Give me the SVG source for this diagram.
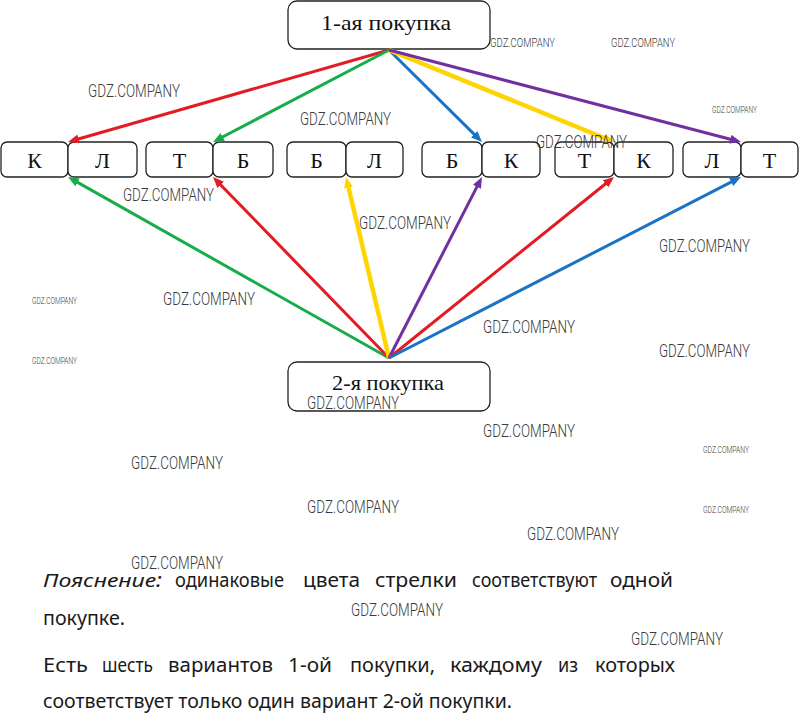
<svg xmlns="http://www.w3.org/2000/svg" width="799" height="717" viewBox="0 0 799 717">
<style>
.box{fill:#fff;stroke:#222;stroke-width:1.3}
.nt{font-family:"Liberation Serif","Times New Roman",serif;font-size:22px;fill:#111;text-anchor:middle}
.lt{font-family:"Liberation Serif","Times New Roman",serif;font-size:22px;fill:#111;text-anchor:middle}
.ar{fill:none;stroke-width:3}
.r{stroke:#e31b23}.g{stroke:#17ad4a}.b{stroke:#1b73c4}.y{stroke:#ffd400;stroke-width:4.5}.p{stroke:#7030a0}
.tx{font-family:"Noto Sans","DejaVu Sans",sans-serif;font-size:19px;fill:#1a1a1a}
.wm{font-family:"Roboto","Liberation Sans",sans-serif;font-weight:300;fill:#3a3a3a;font-size:19px}
.ws{font-family:"Roboto","Liberation Sans",sans-serif;font-weight:300;fill:#3a3a3a;font-size:13px}
.wt{font-family:"Roboto","Liberation Sans",sans-serif;font-weight:300;fill:#3a3a3a;font-size:9px}
</style>
<defs>
<marker id="mr" markerUnits="userSpaceOnUse" markerWidth="11" markerHeight="9" refX="3" refY="4.5" orient="auto"><path d="M0,0 L11,4.5 L0,9 z" fill="#e31b23"/></marker>
<marker id="mg" markerUnits="userSpaceOnUse" markerWidth="11" markerHeight="9" refX="3" refY="4.5" orient="auto"><path d="M0,0 L11,4.5 L0,9 z" fill="#17ad4a"/></marker>
<marker id="mb" markerUnits="userSpaceOnUse" markerWidth="11" markerHeight="9" refX="3" refY="4.5" orient="auto"><path d="M0,0 L11,4.5 L0,9 z" fill="#1b73c4"/></marker>
<marker id="my" markerUnits="userSpaceOnUse" markerWidth="11" markerHeight="9" refX="3" refY="4.5" orient="auto"><path d="M0,0 L11,4.5 L0,9 z" fill="#ffd400"/></marker>
<marker id="mp" markerUnits="userSpaceOnUse" markerWidth="11" markerHeight="9" refX="3" refY="4.5" orient="auto"><path d="M0,0 L11,4.5 L0,9 z" fill="#7030a0"/></marker>
</defs>
<rect width="799" height="717" fill="#fff"/>

<g id="node-first">
<rect class="box" x="288" y="1" width="202" height="48" rx="9"/>
<text class="nt" x="386" y="30" textLength="130" lengthAdjust="spacingAndGlyphs">1-ая покупка</text>
</g>
<g id="node-second">
<rect class="box" x="288" y="362" width="202" height="49" rx="9"/>
<text class="nt" x="388" y="390" textLength="112" lengthAdjust="spacingAndGlyphs">2-я покупка</text>
</g>

<g id="pair-1">
<rect class="box" x="1" y="142" width="67" height="35" rx="6"/>
<rect class="box" x="68" y="142" width="69" height="35" rx="6"/>
<text class="lt" x="34.5" y="168">К</text>
<text class="lt" x="102.5" y="168">Л</text>
</g>
<g id="pair-2">
<rect class="box" x="146" y="142" width="67" height="35" rx="6"/>
<rect class="box" x="213" y="142" width="60" height="35" rx="6"/>
<text class="lt" x="179.5" y="168">Т</text>
<text class="lt" x="243" y="168">Б</text>
</g>
<g id="pair-3">
<rect class="box" x="287" y="142" width="59" height="35" rx="6"/>
<rect class="box" x="346" y="142" width="57" height="35" rx="6"/>
<text class="lt" x="316.5" y="168">Б</text>
<text class="lt" x="374.5" y="168">Л</text>
</g>
<g id="pair-4">
<rect class="box" x="422" y="142" width="60" height="35" rx="6"/>
<rect class="box" x="482" y="142" width="58" height="35" rx="6"/>
<text class="lt" x="452" y="168">Б</text>
<text class="lt" x="511" y="168">К</text>
</g>
<g id="pair-5">
<rect class="box" x="555" y="142" width="59" height="35" rx="6"/>
<rect class="box" x="614" y="142" width="59" height="35" rx="6"/>
<text class="lt" x="584.5" y="168">Т</text>
<text class="lt" x="643.5" y="168">К</text>
</g>
<g id="pair-6">
<rect class="box" x="683" y="142" width="58" height="35" rx="6"/>
<rect class="box" x="741" y="142" width="57" height="35" rx="6"/>
<text class="lt" x="712" y="168">Л</text>
<text class="lt" x="769.5" y="168">Т</text>
</g>

<g id="connectors">
<line class="ar r" x1="389" y1="50" x2="75.69" y2="139.8" marker-end="url(#mr)"/>
<line class="ar g" x1="389" y1="50" x2="220.09" y2="138.29" marker-end="url(#mg)"/>
<line class="ar b" x1="389" y1="50" x2="476.31" y2="136.37" marker-end="url(#mb)"/>
<line class="ar y" x1="389" y1="50" x2="606.6" y2="138.97" marker-end="url(#my)"/>
<line class="ar p" x1="389" y1="50" x2="733.26" y2="139.98" marker-end="url(#mp)"/>
<line class="ar g" x1="389" y1="358" x2="74.97" y2="180.93" marker-end="url(#mg)"/>
<line class="ar r" x1="389" y1="358" x2="218.58" y2="182.74" marker-end="url(#mr)"/>
<line class="ar y" x1="389" y1="358" x2="347.85" y2="184.78" marker-end="url(#my)"/>
<line class="ar p" x1="389" y1="358" x2="478.34" y2="184.12" marker-end="url(#mp)"/>
<line class="ar r" x1="389" y1="358" x2="607.77" y2="182.01" marker-end="url(#mr)"/>
<line class="ar b" x1="389" y1="358" x2="733.89" y2="180.66" marker-end="url(#mb)"/>
</g>

<g id="explanation">
<text class="tx" y="587"><tspan x="43" font-style="italic" textLength="119" lengthAdjust="spacingAndGlyphs">Пояснение:</tspan></text>
<text class="tx" x="175" y="587" textLength="109" lengthAdjust="spacingAndGlyphs">одинаковые</text>
<text class="tx" x="303" y="587" textLength="57" lengthAdjust="spacingAndGlyphs">цвета</text>
<text class="tx" x="375" y="587" textLength="82" lengthAdjust="spacingAndGlyphs">стрелки</text>
<text class="tx" x="472" y="587" textLength="125" lengthAdjust="spacingAndGlyphs">соответствуют</text>
<text class="tx" x="610" y="587" textLength="63" lengthAdjust="spacingAndGlyphs">одной</text>
<text class="tx" x="43" y="625" textLength="82" lengthAdjust="spacingAndGlyphs">покупке.</text>
<text class="tx" x="43" y="672" textLength="45" lengthAdjust="spacingAndGlyphs">Есть</text>
<text class="tx" x="102" y="672" textLength="51" lengthAdjust="spacingAndGlyphs">шесть</text>
<text class="tx" x="168" y="672" textLength="105" lengthAdjust="spacingAndGlyphs">вариантов</text>
<text class="tx" x="288" y="672" textLength="44" lengthAdjust="spacingAndGlyphs">1-ой</text>
<text class="tx" x="350" y="672" textLength="85" lengthAdjust="spacingAndGlyphs">покупки,</text>
<text class="tx" x="450" y="672" textLength="92" lengthAdjust="spacingAndGlyphs">каждому</text>
<text class="tx" x="558" y="672" textLength="20" lengthAdjust="spacingAndGlyphs">из</text>
<text class="tx" x="595" y="672" textLength="80" lengthAdjust="spacingAndGlyphs">которых</text>
<text class="tx" x="43" y="708" textLength="469" lengthAdjust="spacingAndGlyphs">соответствует только один вариант 2-ой покупки.</text>
</g>

<g id="watermarks">
<text class="wm" x="88" y="97" textLength="92" lengthAdjust="spacingAndGlyphs">GDZ.COMPANY</text>
<text class="ws" x="490" y="47" textLength="65" lengthAdjust="spacingAndGlyphs">GDZ.COMPANY</text>
<text class="ws" x="611" y="47" textLength="64" lengthAdjust="spacingAndGlyphs">GDZ.COMPANY</text>
<text class="wm" x="300" y="125" textLength="91" lengthAdjust="spacingAndGlyphs">GDZ.COMPANY</text>
<text class="wt" x="712" y="113" textLength="45" lengthAdjust="spacingAndGlyphs">GDZ.COMPANY</text>
<text class="wm" x="536" y="148" textLength="91" lengthAdjust="spacingAndGlyphs">GDZ.COMPANY</text>
<text class="wm" x="123" y="201" textLength="91" lengthAdjust="spacingAndGlyphs">GDZ.COMPANY</text>
<text class="wm" x="359" y="229" textLength="92" lengthAdjust="spacingAndGlyphs">GDZ.COMPANY</text>
<text class="wm" x="659" y="252" textLength="91" lengthAdjust="spacingAndGlyphs">GDZ.COMPANY</text>
<text class="wt" x="32" y="304" textLength="45" lengthAdjust="spacingAndGlyphs">GDZ.COMPANY</text>
<text class="wm" x="163" y="305" textLength="92" lengthAdjust="spacingAndGlyphs">GDZ.COMPANY</text>
<text class="wm" x="483" y="333" textLength="92" lengthAdjust="spacingAndGlyphs">GDZ.COMPANY</text>
<text class="wt" x="32" y="364" textLength="45" lengthAdjust="spacingAndGlyphs">GDZ.COMPANY</text>
<text class="wm" x="659" y="357" textLength="91" lengthAdjust="spacingAndGlyphs">GDZ.COMPANY</text>
<text class="wm" x="307" y="409" textLength="92" lengthAdjust="spacingAndGlyphs">GDZ.COMPANY</text>
<text class="wm" x="483" y="437" textLength="92" lengthAdjust="spacingAndGlyphs">GDZ.COMPANY</text>
<text class="wt" x="703" y="453" textLength="46" lengthAdjust="spacingAndGlyphs">GDZ.COMPANY</text>
<text class="wm" x="131" y="469" textLength="92" lengthAdjust="spacingAndGlyphs">GDZ.COMPANY</text>
<text class="wm" x="307" y="513" textLength="92" lengthAdjust="spacingAndGlyphs">GDZ.COMPANY</text>
<text class="wt" x="703" y="513" textLength="46" lengthAdjust="spacingAndGlyphs">GDZ.COMPANY</text>
<text class="wm" x="527" y="540" textLength="92" lengthAdjust="spacingAndGlyphs">GDZ.COMPANY</text>
<text class="wm" x="131" y="569" textLength="92" lengthAdjust="spacingAndGlyphs">GDZ.COMPANY</text>
<text class="wm" x="351" y="616" textLength="92" lengthAdjust="spacingAndGlyphs">GDZ.COMPANY</text>
<text class="wm" x="631" y="645" textLength="92" lengthAdjust="spacingAndGlyphs">GDZ.COMPANY</text>
</g>
</svg>
